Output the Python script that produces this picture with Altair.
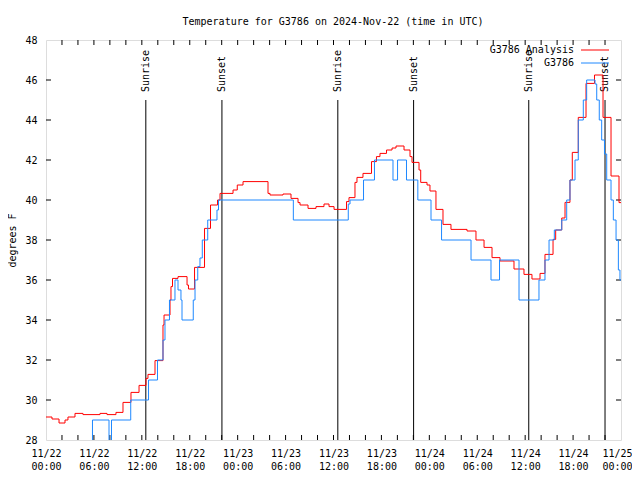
import altair as alt
import pandas as pd

FONT = "DejaVu Sans Mono"

# hours since 2024-11-22 00:00 UTC
red_hours = [0.00, 0.75, 1.63, 2.38, 2.75, 3.63, 4.63, 6.76, 7.64, 8.76, 9.64, 10.64, 11.65,
             12.52, 12.77, 13.65, 14.65, 14.78, 15.53, 15.65, 15.84, 16.53, 17.66, 17.84,
             18.60, 19.85, 20.60, 21.48, 21.79, 23.42, 23.95, 24.67, 27.80, 28.05, 29.68,
             30.68, 31.56, 31.81, 32.81, 33.81, 34.81, 35.44, 36.07, 37.63, 37.94, 38.69,
             38.94, 39.69, 40.76, 41.38, 41.82, 42.64, 43.33, 43.83, 44.83, 45.58, 45.83,
             46.71, 46.92, 47.71, 48.08, 48.83, 49.71, 50.71, 52.72, 53.84, 54.85, 55.85,
             56.85, 58.60, 59.85, 60.85, 61.86, 62.48, 63.49, 63.82, 64.58, 64.99, 65.61,
             65.90, 66.65, 67.62, 68.68, 69.75, 70.75, 71.75, 72.00]
red_temps = [29.15, 29.05, 28.85, 29.00, 29.15, 29.33, 29.27, 29.33, 29.27, 29.38, 29.88, 30.38, 30.73,
             31.08, 31.28, 31.97, 33.75, 34.25, 35.00, 35.67, 36.08, 36.17, 35.75, 35.55,
             36.63, 38.58, 39.75, 40.00, 40.33, 40.50, 40.75, 40.92, 40.33, 40.25, 40.30,
             40.08, 39.87, 39.75, 39.58, 39.67, 39.80, 39.67, 39.53, 39.92, 40.12, 40.88,
             41.13, 41.33, 41.92, 42.17, 42.33, 42.50, 42.60, 42.70, 42.50, 42.17, 41.88,
             41.50, 40.88, 40.75, 40.45, 39.53, 38.78, 38.53, 38.45, 38.00, 37.63, 37.12,
             36.95, 36.55, 36.28, 36.05, 36.33, 37.28, 38.03, 38.50, 39.10, 39.88, 41.00,
             42.38, 44.13, 45.83, 46.25, 44.13, 41.20, 39.87, 39.87]

blue_hours = [0.00, 5.82, 7.89, 8.20, 10.61, 12.84, 13.96, 14.65, 14.90, 15.46, 16.15, 16.53,
              16.90, 17.03, 18.44, 18.66, 19.00, 19.28, 19.57, 20.25, 21.41, 21.60, 30.97,
              37.85, 38.07, 39.76, 41.13, 43.45, 44.02, 45.14, 46.56, 48.21, 49.53, 53.22,
              55.72, 56.79, 59.23, 61.73, 62.48, 62.99, 63.65, 64.58, 65.20, 65.61, 66.24,
              66.65, 67.28, 67.70, 68.75, 68.96, 69.28, 69.58, 69.93, 70.21, 70.75, 71.04,
              71.38, 71.67, 71.87, 72.00]
blue_temps = [27.5, 29.0, 27.5, 29.0, 30.0, 31.0, 32.0, 33.0, 34.0, 35.0, 36.0, 35.5,
              35.0, 34.0, 35.0, 36.0, 36.67, 37.1, 38.0, 39.0, 39.5, 40.0, 39.0,
              39.8, 40.0, 41.0, 42.0, 41.0, 42.0, 41.0, 40.0, 39.0, 38.0, 37.0,
              36.0, 37.0, 35.0, 36.0, 37.0, 38.0, 38.5, 39.0, 40.0, 41.0, 42.0,
              44.0, 45.0, 46.0, 45.8, 45.0, 44.0, 43.0, 42.3, 41.0, 40.0, 39.0,
              38.0, 36.5, 36.0, 36.0]

event_hours = [12.50, 22.03, 36.54, 46.03, 60.45, 70.00]
event_labels = ["Sunrise", "Sunset", "Sunrise", "Sunset", "Sunrise", "Sunset"]

x_label_hours = list(range(0, 73, 6))
x_minor_hours = list(range(2, 72, 2))
y_tick_values = list(range(28, 49, 2))
y_inner_ticks = list(range(30, 48, 2))

series_names = ["G3786 Analysis", "G3786"]
series_colors = ["#ff0000", "#1e88ff"]
title_text = "Temperature for G3786 on 2024-Nov-22 (time in UTC)"

df_red = pd.DataFrame({"hour": red_hours, "temp": red_temps})
df_blue = pd.DataFrame({"hour": blue_hours, "temp": blue_temps})
df_events = pd.DataFrame({"hour": event_hours, "label": event_labels})
df_xt = pd.DataFrame({"hour": x_minor_hours})
df_yt = pd.DataFrame({"temp": y_inner_ticks})
one = pd.DataFrame({"a": [0]})

xs = alt.Scale(domain=[0, 72], nice=False, zero=False)
ys = alt.Scale(domain=[28, 48], nice=False, zero=False)

xaxis = alt.Axis(
    values=x_label_hours,
    labelExpr="['11/' + (22 + floor(datum.value / 24)), (datum.value % 24 < 10 ? '0' : '') + (datum.value % 24) + ':00']",
    ticks=False, domain=False, grid=False,
    labelFont=FONT, labelFontSize=10, labelColor="black",
    labelPadding=8, labelLineHeight=13, labelBaseline="top",
    labelOffset={"condition": {"test": "datum.value == 72", "value": -4}, "value": 0},
    labelFlush=False, labelOverlap=False, title=None,
)
yaxis = alt.Axis(
    values=y_tick_values, ticks=False, domain=False, grid=False,
    labelFont=FONT, labelFontSize=10, labelColor="black", labelPadding=9,
    labelFlush=False, labelOverlap=False,
    title="degrees F", titleFont=FONT, titleFontSize=10, titleFontWeight="normal",
    titleColor="black", titleAngle=270, titleX=-34, titleY=200,
    titleAlign="center", titleBaseline="middle",
)

X = alt.X("hour:Q", scale=xs, axis=xaxis)
Y = alt.Y("temp:Q", scale=ys, axis=yaxis)

rules = alt.Chart(df_events).mark_rule(color="black", strokeWidth=1).encode(
    x=X, y=alt.value(60), y2=alt.value(400))
texts = alt.Chart(df_events).mark_text(
    angle=270, align="left", baseline="middle", font=FONT, fontSize=10, color="black"
).encode(x=X, y=alt.value(52), text="label:N")

xt_bottom = alt.Chart(df_xt).mark_rule(color="black").encode(
    x=X, y=alt.value(400), y2=alt.value(395))
xt_top = alt.Chart(df_xt).mark_rule(color="black").encode(
    x=X, y=alt.value(0), y2=alt.value(5))
yt_left = alt.Chart(df_yt).mark_rule(color="black").encode(
    y=Y, x=alt.value(0), x2=alt.value(5))
yt_right = alt.Chart(df_yt).mark_rule(color="black").encode(
    y=Y, x=alt.value(575), x2=alt.value(570))

red = alt.Chart(df_red).mark_line(
    interpolate="step-after", color=series_colors[0], strokeWidth=1, clip=True
).encode(x=X, y=Y)
blue = alt.Chart(df_blue).mark_line(
    interpolate="step-after", color=series_colors[1], strokeWidth=1, clip=True
).encode(x=X, y=Y)

title = alt.Chart(one).mark_text(align="center", baseline="alphabetic", font=FONT,
                                 fontSize=10, color="black").encode(
    x=alt.value(287), y=alt.value(-15), text=alt.value(title_text))

leg_t1 = alt.Chart(one).mark_text(align="right", baseline="middle", font=FONT, fontSize=10, color="black").encode(
    x=alt.value(528), y=alt.value(10), text=alt.value(series_names[0]))
leg_t2 = alt.Chart(one).mark_text(align="right", baseline="middle", font=FONT, fontSize=10, color="black").encode(
    x=alt.value(528), y=alt.value(23), text=alt.value(series_names[1]))
leg_l1 = alt.Chart(one).mark_rule(color=series_colors[0], strokeWidth=1).encode(
    x=alt.value(535), x2=alt.value(563), y=alt.value(10))
leg_l2 = alt.Chart(one).mark_rule(color=series_colors[1], strokeWidth=1).encode(
    x=alt.value(535), x2=alt.value(563), y=alt.value(23))

chart = alt.layer(
    rules, texts, xt_bottom, xt_top, yt_left, yt_right, red, blue,
    title, leg_t1, leg_t2, leg_l1, leg_l2
).properties(
    width=575, height=400,
    padding={"left": 38, "top": 32, "right": 11, "bottom": 32},
    autosize=alt.AutoSizeParams(type="none"),
).configure_view(stroke="black", strokeWidth=1).configure(background="white")

chart.save("out.html", embed_options={"renderer": "svg", "actions": False})
